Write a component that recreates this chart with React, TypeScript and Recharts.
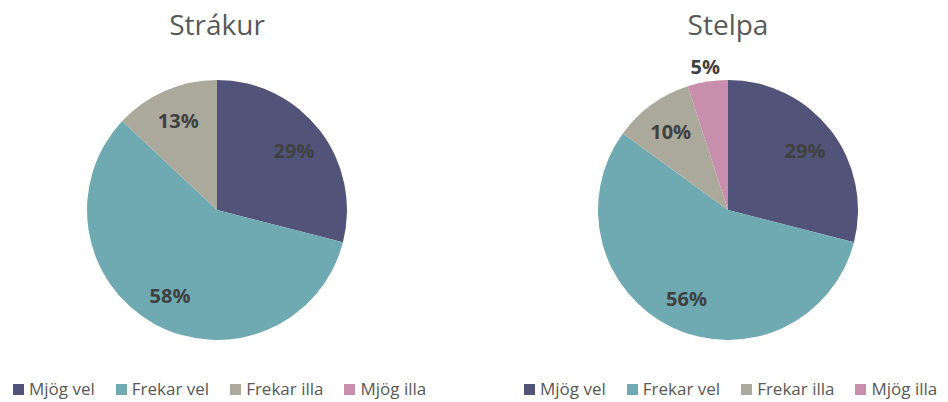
import React from "react";
import { PieChart, Pie, Cell, Legend } from "recharts";

const categories = ["Mjög vel", "Frekar vel", "Frekar illa", "Mjög illa"];
const strakurValues = [29, 58, 13, 0];
const stelpaValues = [29, 56, 10, 5];
const titles = ["Strákur", "Stelpa"];
const colors = ["#525379", "#6FAAB2", "#ABA99C", "#C78FAB"];

const FONT = "'Open Sans', sans-serif";
const RADIAN = Math.PI / 180;

const makeData = (vals: number[]) =>
  categories.map((name, i) => ({ name, value: vals[i] }));

const renderLabel = (props: any) => {
  const { cx, cy, midAngle, outerRadius, value } = props;
  if (!value) return null;
  const r = value < 7 ? outerRadius + 15 : outerRadius * 0.75;
  const x = cx + r * Math.cos(-midAngle * RADIAN);
  const y = cy + r * Math.sin(-midAngle * RADIAN);
  return (
    <text
      x={x}
      y={y}
      fill="#404040"
      textAnchor="middle"
      dominantBaseline="central"
      fontFamily={FONT}
      fontWeight={700}
      fontSize={20}
    >
      {value}%
    </text>
  );
};

const renderLegend = () => (
  <div style={{ display: "flex", alignItems: "center", fontFamily: FONT, fontSize: 17, color: "#595959", whiteSpace: "nowrap" }}>
    {categories.map((c, i) => (
      <div key={c} style={{ display: "flex", alignItems: "center", marginRight: i < 3 ? 21 : 0 }}>
        <div style={{ width: 11, height: 11, background: colors[i], marginRight: 5 }} />
        <span style={{ lineHeight: "20px" }}>{c}</span>
      </div>
    ))}
  </div>
);

const PieBlock = ({ vals, title, left, cx, legendLeft }: any) => (
  <div style={{ position: "absolute", left, top: 0, width: 474, height: 402 }}>
    <div
      style={{
        position: "absolute",
        left: cx - 150,
        width: 300,
        top: 10,
        textAlign: "center",
        fontFamily: FONT,
        fontSize: 28,
        lineHeight: "28px",
        color: "#595959",
      }}
    >
      {title}
    </div>
    <PieChart width={474} height={402} margin={{ top: 0, right: 0, bottom: 0, left: 0 }}>
      <Pie
        data={makeData(vals)}
        dataKey="value"
        nameKey="name"
        cx={cx}
        cy={210}
        outerRadius={130}
        startAngle={90}
        endAngle={-270}
        stroke="none"
        label={renderLabel}
        labelLine={false}
        isAnimationActive={false}
      >
        {vals.map((_: number, i: number) => (
          <Cell key={i} fill={colors[i]} />
        ))}
      </Pie>
      <Legend
        content={renderLegend}
        wrapperStyle={{ position: "absolute", left: legendLeft, top: 379, width: 474 - legendLeft, bottom: "auto" }}
      />
    </PieChart>
  </div>
);

export default function App() {
  return (
    <div style={{ position: "absolute", left: 0, top: 0, width: 948, height: 402, background: "#fff", overflow: "hidden" }}>
      <PieBlock vals={strakurValues} title={titles[0]} left={0} cx={217} legendLeft={13} />
      <PieBlock vals={stelpaValues} title={titles[1]} left={474} cx={254} legendLeft={50} />
    </div>
  );
}
